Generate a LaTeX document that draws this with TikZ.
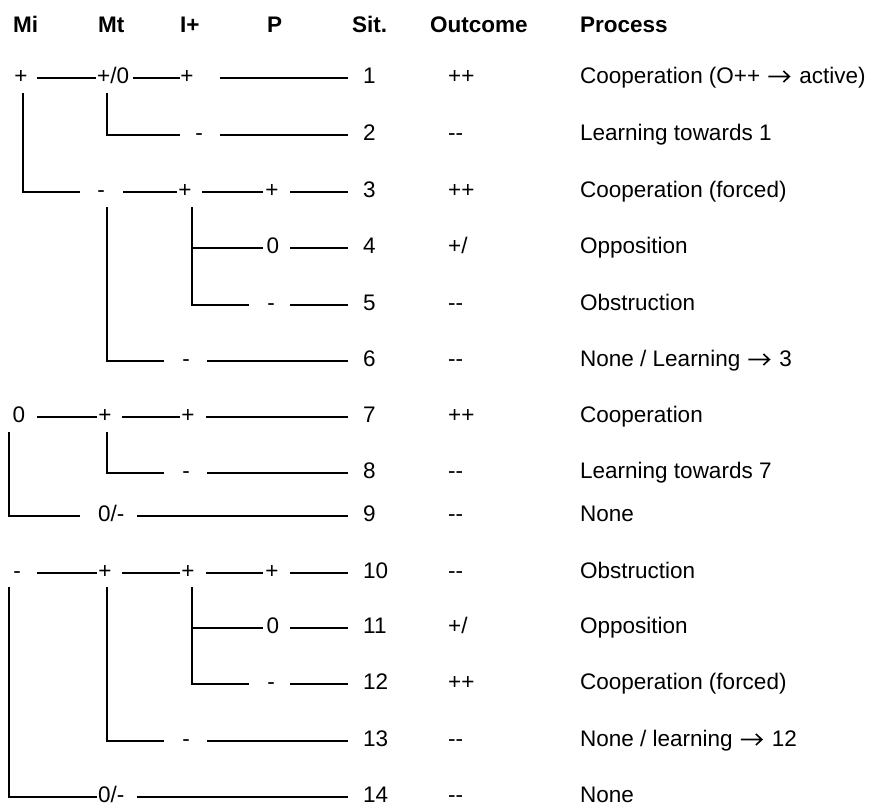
\documentclass[tikz,border=0pt]{standalone}
\usepackage{fontspec}
\setmainfont{Liberation Sans}
\newcommand\fs{\fontsize{22.5}{27}\selectfont}
% double minus without the TeX en-dash ligature
\newcommand\dm{-\kern0pt-}
% open-headed arrow used inside the process texts
\newcommand\arr{\hspace{1pt}\tikz[baseline=0pt]{\draw[line width=1.6pt,line cap=butt,line join=miter]
  (0pt,6.5pt) -- (21pt,6.5pt) (15pt,1pt) -- (21pt,6.5pt) -- (15pt,12pt);}\hspace{3pt}}
\begin{document}
\begin{tikzpicture}[x=1pt,y=-1pt,
  ln/.style={line width=1.7pt},
  hd/.style={anchor=base west,inner sep=0pt,font=\fs\bfseries},
  tx/.style={anchor=base west,inner sep=0pt,font=\fs},
  tc/.style={anchor=base,inner sep=0pt,font=\fs}]
\useasboundingbox (0,0) rectangle (880,808);

% column headings
\node[hd] (hMi)   at (13,33)  {Mi};
\node[hd] (hMt)   at (98,33)  {Mt};
\node[hd] (hIp)   at (180,33) {I+};
\node[hd] (hP)    at (267,33) {P};
\node[hd] (hSit)  at (352,33) {Sit.};
\node[hd] (hOut)  at (430,33) {Outcome};
\node[hd] (hProc) at (580,33) {Process};

% situation number, outcome and process text of one row: y-baseline, n, outcome, process
\newcommand\tail[4]{%
  \node[tx] (s#2) at (363,#1) {#2};
  \node[tx] (o#2) at (448,#1) {#3};
  \node[tx] (p#2) at (580,#1) {#4};}
% horizontal segment: y, x1, x2
\newcommand\hs[3]{\draw[ln] (#2,#1) coordinate (a) -- (#3,#1) coordinate (b);}
% branch: x, y-top, y-row, x-end
\newcommand\br[4]{\draw[ln] (#1,#2) coordinate (a) |- (#4,#3) coordinate (b);}

% ---- Mi = + ----
% row 1
\node[tc] (m1) at (21,83)  {+};
\node[tx] (t1) at (97,83)  {+/0};
\node[tc] (i1) at (187,83) {+};
\hs{78}{37}{96}\hs{78}{133}{180}\hs{78}{220}{348}
\tail{83}{1}{++}{Cooperation (O++ \arr\ active)}
% row 2
\br{107}{93}{135}{180}
\node[tc] (i2) at (199,140) {-};
\hs{135}{220}{348}
\tail{140}{2}{\dm}{Learning towards 1}
% row 3
\br{23}{93}{192}{80}
\node[tc] (t3) at (101,197) {-};
\hs{192}{123}{177}
\node[tc] (i3) at (185,197) {+};
\hs{192}{202}{263}
\node[tc] (p3) at (272,197) {+};
\hs{192}{290}{348}
\tail{197}{3}{++}{Cooperation (forced)}
% row 4
\br{192}{207}{248}{263}
\node[tc] (p4) at (273,253) {0};
\hs{248}{290}{348}
\tail{253}{4}{+/}{Opposition}
% row 5
\br{192}{207}{305}{249}
\node[tc] (p5) at (271,310) {-};
\hs{305}{290}{348}
\tail{310}{5}{\dm}{Obstruction}
% row 6
\br{107}{207}{361}{164}
\node[tc] (i6) at (186,366) {-};
\hs{361}{207}{348}
\tail{366}{6}{\dm}{None / Learning \arr\ 3}

% ---- Mi = 0 ----
% row 7
\node[tc] (m7) at (19,422)  {0};
\hs{417}{37}{97}
\node[tc] (t7) at (105,422) {+};
\hs{417}{122}{180}
\node[tc] (i7) at (188,422) {+};
\hs{417}{206}{348}
\tail{422}{7}{++}{Cooperation}
% row 8
\br{107}{432}{473}{164}
\node[tc] (i8) at (186,478) {-};
\hs{473}{207}{348}
\tail{478}{8}{\dm}{Learning towards 7}
% row 9
\br{9.3}{432}{516}{80}
\node[tx] (t9) at (98,521) {0/-};
\hs{516}{137}{348}
\tail{521}{9}{\dm}{None}

% ---- Mi = - ----
% row 10
\node[tc] (m10) at (17,578)  {-};
\hs{573}{37}{97}
\node[tc] (t10) at (105,578) {+};
\hs{573}{122}{180}
\node[tc] (i10) at (188,578) {+};
\hs{573}{206}{263}
\node[tc] (p10) at (272,578) {+};
\hs{573}{290}{348}
\tail{578}{10}{\dm}{Obstruction}
% row 11
\br{192}{587}{628}{263}
\node[tc] (p11) at (273,633) {0};
\hs{628}{290}{348}
\tail{633}{11}{+/}{Opposition}
% row 12
\br{192}{587}{684}{249}
\node[tc] (p12) at (271,689) {-};
\hs{684}{290}{348}
\tail{689}{12}{++}{Cooperation (forced)}
% row 13
\br{107}{587}{741}{164}
\node[tc] (i13) at (186,746) {-};
\hs{741}{207}{348}
\tail{746}{13}{\dm}{None / learning \arr\ 12}
% row 14
\br{9.3}{587}{797}{97}
\node[tx] (t14) at (98,802) {0/-};
\hs{797}{137}{348}
\tail{802}{14}{\dm}{None}
\end{tikzpicture}
\end{document}
